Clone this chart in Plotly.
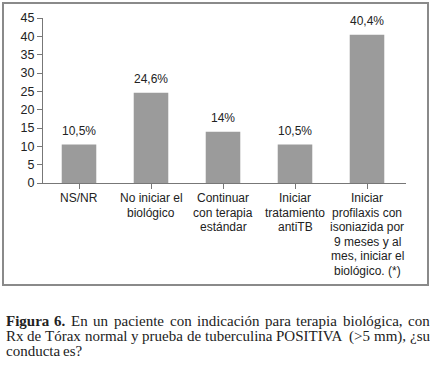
import plotly.graph_objects as go

categories = [
    "NS/NR",
    "No iniciar el<br>biológico",
    "Continuar<br>con terapia<br>estándar",
    "Iniciar<br>tratamiento<br>antiTB",
    "Iniciar<br>profilaxis con<br>isoniazida por<br>9 meses y al<br>mes, iniciar el<br>biológico. (*)",
]
values = [10.5, 24.6, 14, 10.5, 40.4]
value_labels = ["10,5%", "24,6%", "14%", "10,5%", "40,4%"]
y_ticks = [0, 5, 10, 15, 20, 25, 30, 35, 40, 45]
caption_lines = [
    "Figura 6. En un paciente con indicación para terapia biológica, con",
    "Rx de Tórax normal y prueba de tuberculina POSITIVA (>5 mm), ¿su",
    "conducta es?",
]
caption_bold_words = 2  # "Figura 6."

W, H = 430, 365
L, R, T, B = 43, 406, 18, 183  # plot area in pixels
CAP_LEFT, CAP_RIGHT = 3.5, 427.5
CAP_SIZE = 15
line_y = [321, 336, 350.5]


def px(x):
    return (x - L) / (R - L)


def py(y):
    return (B - y) / (B - T)


SANS = "Liberation Sans, Arial"
SERIF = "Liberation Serif, Times New Roman"

# Times-metric advance widths (per 1000 em) used to justify the caption
_TW = dict(zip("abcdefghijklmnopqrstuvwxyz",
               [444, 500, 444, 500, 444, 333, 500, 500, 278, 278, 500, 278, 778,
                500, 500, 500, 500, 333, 389, 278, 500, 500, 722, 500, 500, 444]))
_TW.update(dict(zip("ABCDEFGHIJKLMNOPQRSTUVWXYZ",
                    [722, 667, 667, 722, 611, 556, 722, 722, 333, 389, 722, 611, 889,
                     722, 722, 556, 722, 667, 556, 611, 722, 722, 944, 722, 722, 611])))
_TW.update({c: 500 for c in "0123456789"})
_TW.update({" ": 250, ".": 250, ",": 250, "(": 333, ")": 333, ">": 564, "?": 444,
            "¿": 444, "á": 444, "é": 444, "ó": 500, "í": 278, "ú": 500})
_TB = dict(_TW)
_TB.update({"F": 611, "u": 556, "r": 444, "a": 500, "i": 278, "g": 500})


def word_w(w, bold=False):
    tbl = _TB if bold else _TW
    return sum(tbl.get(c, 500) for c in w) * CAP_SIZE / 1000


fig = go.Figure(
    go.Bar(
        x=categories,
        y=values,
        marker=dict(color="#9b9b9b", line=dict(width=0)),
        hoverinfo="y",
    )
)

fig.update_layout(
    width=W,
    height=H,
    margin=dict(l=L, r=W - R, t=T, b=H - B, pad=0),
    paper_bgcolor="white",
    plot_bgcolor="white",
    showlegend=False,
    bargap=0.52,
    font=dict(family=SANS, size=12, color="#222"),
    xaxis=dict(
        showline=True,
        linecolor="#777",
        linewidth=1,
        ticks="outside",
        ticklen=5,
        tickcolor="#777",
        showticklabels=False,
        showgrid=False,
        fixedrange=True,
    ),
    yaxis=dict(
        range=[0, 45],
        tickvals=y_ticks,
        showline=True,
        linecolor="#777",
        linewidth=1,
        ticks="outside",
        ticklen=5,
        tickcolor="#777",
        tickfont=dict(size=12.5, color="#222"),
        showgrid=False,
        zeroline=False,
        fixedrange=True,
    ),
    shapes=[
        dict(
            type="rect",
            xref="paper",
            yref="paper",
            x0=px(3),
            x1=px(428),
            y0=py(285),
            y1=py(3),
            line=dict(color="#8a8a8a", width=2),
            fillcolor="rgba(0,0,0,0)",
            layer="below",
        )
    ],
)

# value labels above bars
for cat, v, lab in zip(categories, values, value_labels):
    fig.add_annotation(
        x=cat, y=v, xref="x", yref="y", text=lab, showarrow=False,
        yanchor="middle", yshift=13.5,
        font=dict(family=SANS, size=12, color="#222"),
    )

# category labels (one annotation per line for tight line spacing)
for cat in categories:
    for j, line in enumerate(cat.split("<br>")):
        fig.add_annotation(
            x=cat, xref="x", y=py(198 + j * 14.6), yref="paper",
            text=line, showarrow=False, xanchor="center", yanchor="middle",
            font=dict(family=SANS, size=12, color="#222"),
        )

# justified caption, word by word
for i, line in enumerate(caption_lines):
    words = line.split(" ")
    bolds = [i == 0 and k < caption_bold_words for k in range(len(words))]
    widths = [word_w(w, b) for w, b in zip(words, bolds)]
    if i < len(caption_lines) - 1 and len(words) > 1:
        gap = (CAP_RIGHT - CAP_LEFT - sum(widths)) / (len(words) - 1)
    else:
        gap = 250 * CAP_SIZE / 1000
    x = CAP_LEFT
    for w, b, wd in zip(words, bolds, widths):
        fig.add_annotation(
            text=f"<b>{w}</b>" if b else w,
            xref="paper", yref="paper",
            x=px(x), y=py(line_y[i]),
            xanchor="left", yanchor="middle", showarrow=False,
            font=dict(family=SERIF, size=CAP_SIZE, color="#222"),
        )
        x += wd + gap

fig.write_html(
    "out.html",
    config={"displayModeBar": False},
    post_script="document.body.style.margin='0';",
)
